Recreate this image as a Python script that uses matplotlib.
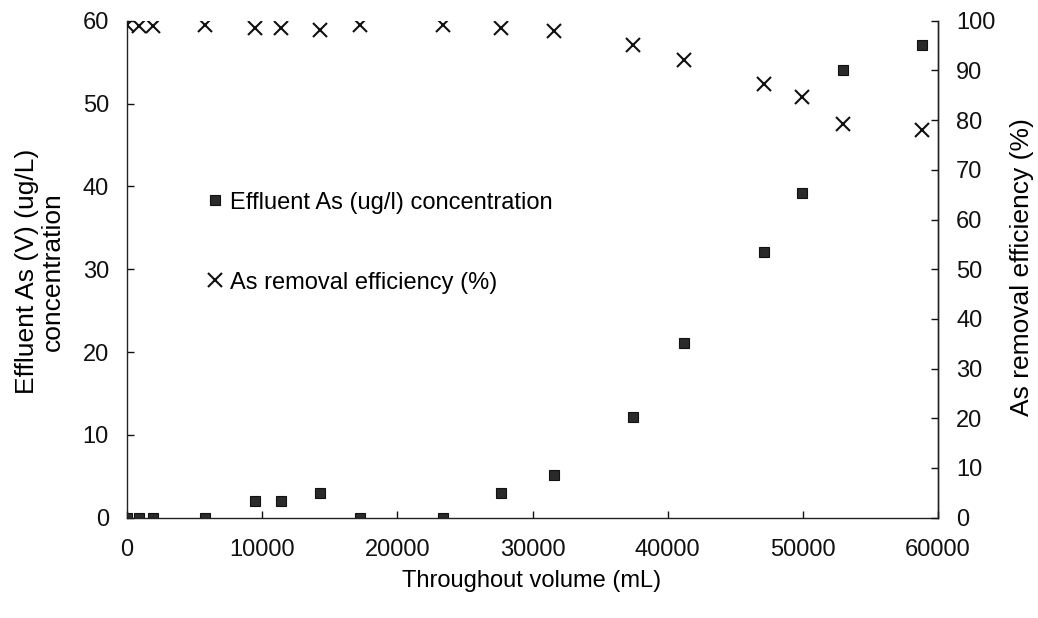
import matplotlib
matplotlib.use("Agg")
import matplotlib.pyplot as plt
from matplotlib.lines import Line2D

plt.rcParams['font.family'] = ['Liberation Sans', 'DejaVu Sans']

# Throughput volume (mL) and measured responses
volume = [0, 900, 1900, 5800, 9500, 11400, 14300, 17200, 23400, 27700,
          31600, 37400, 41200, 47100, 49900, 53000, 58800]
effluent_as = [0, 0, 0, 0, 2.0, 2.0, 3.0, 0, 0, 3.0,
               5.1, 12.1, 21.1, 32.1, 39.2, 54.1, 57.1]
removal_eff = [99.1, 99.0, 99.0, 99.1, 98.6, 98.6, 98.2, 99.2, 99.2, 98.5,
               97.9, 95.1, 92.1, 87.3, 84.7, 79.2, 78.0]

x_ticks = [0, 10000, 20000, 30000, 40000, 50000, 60000]
left_ticks = [0, 10, 20, 30, 40, 50, 60]
right_ticks = [0, 10, 20, 30, 40, 50, 60, 70, 80, 90, 100]

fig = plt.figure(figsize=(10.38, 6.18), dpi=100)
ax = fig.add_axes([0.1224, 0.1623, 0.9037 - 0.1224, 0.9665 - 0.1623])
ax2 = ax.twinx()

fs_tick = 17
fs_xlab = 17
fs_ylab = 19
sq_color = '#2a2a2a'
ink = '#111111'

ax.plot(volume, effluent_as, linestyle='none', marker='s', markersize=6.8,
        color=sq_color, markeredgecolor=ink, markeredgewidth=0.8)
ax2.plot(volume, removal_eff, linestyle='none', marker='x', markersize=10.5,
         markeredgewidth=1.5, color=ink)

ax.set_xlim(0, 60000)
ax.set_ylim(0, 60)
ax2.set_ylim(0, 100)
ax.set_xticks(x_ticks)
ax.set_yticks(left_ticks)
ax2.set_yticks(right_ticks)

for a in (ax, ax2):
    a.spines['top'].set_visible(False)
    for s in a.spines.values():
        s.set_linewidth(1.0)
        s.set_color('#222222')
ax2.spines['left'].set_visible(False)
ax2.spines['bottom'].set_visible(False)

ax.tick_params(axis='y', direction='in', length=5, width=1,
               labelsize=fs_tick, pad=13, colors=ink)
ax.tick_params(axis='x', direction='in', length=5, width=1,
               labelsize=fs_tick, pad=15, colors=ink)
ax2.tick_params(axis='y', direction='in', length=5, width=1,
                labelsize=fs_tick, pad=13, colors=ink)

ax.set_xlabel('Throughout volume (mL)', fontsize=fs_xlab, va='center')
ax.xaxis.set_label_coords(0.4994, -0.128)
ax.set_ylabel('Effluent As (V) (ug/L)\nconcentration', fontsize=fs_ylab,
              linespacing=1.1, va='center')
ax.yaxis.set_label_coords(-0.107, 0.496)
ax2.set_ylabel('As removal efficiency (%)', fontsize=fs_ylab, va='center',
               rotation=90)
ax2.yaxis.set_label_coords(1.104, 0.505)

handles = [
    Line2D([], [], linestyle='none', marker='s', markersize=6.8,
           color=sq_color, markeredgecolor=ink, markeredgewidth=0.8),
    Line2D([], [], linestyle='none', marker='x', markersize=10.5,
           markeredgewidth=1.5, color=ink),
]
ax.legend(handles, ['Effluent As (ug/l) concentration',
                    'As removal efficiency (%)'],
          loc='upper left', bbox_to_anchor=(0.0999, 0.656),
          frameon=False, fontsize=fs_tick, handlelength=0.6,
          handletextpad=0.33, labelspacing=2.45, borderaxespad=0,
          borderpad=0)

fig.savefig('out.png', dpi=100)
